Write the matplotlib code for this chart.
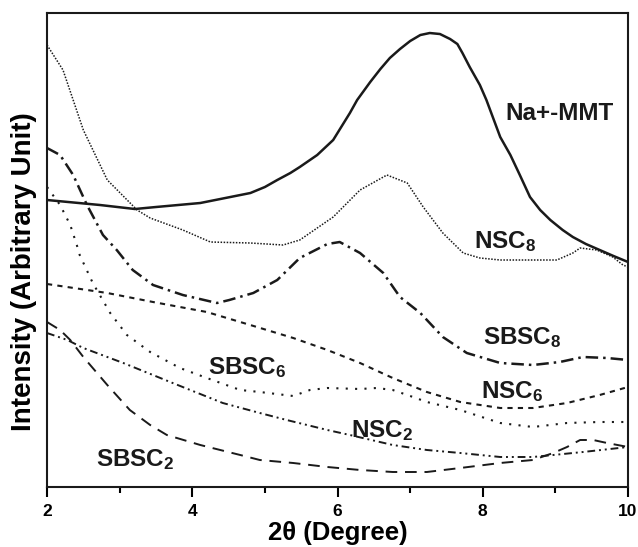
import numpy as np
import matplotlib
matplotlib.use("Agg")
import matplotlib.pyplot as plt
from matplotlib.ticker import MultipleLocator

plt.rcParams['font.family'] = ['Liberation Sans', 'DejaVu Sans']
plt.rcParams['font.weight'] = 'bold'
plt.rcParams['mathtext.fontset'] = 'custom'
plt.rcParams['mathtext.rm'] = 'Liberation Sans:bold'
plt.rcParams['mathtext.it'] = 'Liberation Sans:bold'
plt.rcParams['mathtext.bf'] = 'Liberation Sans:bold'
plt.rcParams['mathtext.default'] = 'rm'

# --- data (2theta in degree, intensity arbitrary) ---
mmt_x = [2.00, 2.73, 3.21, 3.50, 4.11, 4.80, 5.00, 5.17, 5.35, 5.48, 5.72, 5.94, 6.17, 6.27,
         6.45, 6.59, 6.72, 6.86, 7.00, 7.14, 7.27, 7.41, 7.55, 7.65, 7.72, 7.82, 7.96, 8.05,
         8.24, 8.38, 8.51, 8.65, 8.79, 8.93, 9.10, 9.24, 9.42, 9.61, 9.80, 10.0]
mmt_y = [287, 282, 278, 280, 284, 294, 300, 307, 314, 320, 332, 347, 374, 387,
         405, 418, 429, 438, 446, 452, 454, 453, 448, 443, 434, 420, 402, 387,
         350, 332, 312, 290, 277, 267, 257, 250, 243, 237, 231, 225]

nsc8_x = [2.00, 2.22, 2.50, 2.83, 3.24, 3.42, 3.87, 4.25, 4.80, 5.25, 5.48, 5.94, 6.31, 6.68,
          6.96, 7.18, 7.45, 7.73, 7.96, 8.24, 8.55, 9.02, 9.24, 9.34, 9.57, 9.79, 9.93, 10.0]
nsc8_y = [442, 417, 357, 307, 277, 269, 257, 245, 244, 242, 247, 270, 297, 312,
          304, 280, 254, 234, 229, 227, 227, 227, 234, 239, 237, 230, 222, 220]

sbsc8_x = [2.00, 2.18, 2.36, 2.55, 2.77, 2.96, 3.18, 3.46, 3.87, 4.34, 4.51, 4.84, 5.17, 5.48,
           5.86, 6.03, 6.31, 6.63, 6.86, 7.14, 7.45, 7.78, 8.24, 8.69, 9.06, 9.38, 9.71, 10.0]
sbsc8_y = [339, 332, 312, 282, 252, 237, 217, 202, 192, 184, 187, 194, 207, 229,
           243, 245, 234, 214, 190, 174, 150, 134, 124, 122, 125, 130, 129, 127]

nsc6_x = [2.00, 2.83, 3.46, 4.20, 4.89, 5.39, 5.86, 6.31, 6.76, 7.23, 7.69, 8.24, 8.69, 9.16, 9.61, 10.0]
nsc6_y = [203, 194, 185, 175, 160, 149, 137, 124, 109, 95, 85, 79, 79, 84, 92, 100]

sbsc6_x = [2.00, 2.18, 2.32, 2.41, 2.45, 2.63, 2.87, 3.10, 3.42, 3.83, 4.20, 4.66, 4.93, 5.39,
           5.62, 5.86, 6.31, 6.54, 6.76, 7.00, 7.23, 7.69, 8.24, 8.69, 9.16, 9.61, 10.0]
sbsc6_y = [300, 282, 262, 242, 232, 204, 174, 152, 135, 119, 109, 97, 95, 91,
           97, 99, 98, 99, 97, 91, 85, 77, 64, 60, 64, 65, 65]

nsc2_x = [2.00, 2.28, 2.50, 3.05, 3.73, 4.42, 4.93, 5.30, 5.86, 6.17, 6.76, 7.23, 7.69, 8.24,
          8.69, 8.97, 9.38, 10.0]
nsc2_y = [154, 147, 139, 124, 104, 84, 74, 67, 57, 52, 42, 37, 34, 30, 30, 32, 35, 40]

sbsc2_x = [2.00, 2.18, 2.32, 2.50, 2.83, 3.14, 3.42, 3.65, 4.11, 4.66, 4.93, 5.39, 5.86, 6.31,
           6.76, 7.23, 7.69, 8.24, 8.69, 8.97, 9.16, 9.34, 9.52, 9.71, 10.0]
sbsc2_y = [165, 157, 147, 130, 102, 77, 62, 52, 42, 32, 27, 24, 20, 17,
           15, 15, 19, 24, 27, 34, 40, 47, 47, 44, 40]

fig = plt.figure(figsize=(6.38, 5.47), dpi=100)
ax = fig.add_axes([0.0737, 0.1097, 0.9107, 0.8665])

ink = '#1a1a1a'
ax.plot(mmt_x, mmt_y, color=ink, lw=1.8, ls='-')
ax.plot(nsc8_x, nsc8_y, color=ink, lw=1.1, ls=(0, (1, 1)))
ax.plot(sbsc8_x, sbsc8_y, color=ink, lw=1.8, ls=(0, (5, 2, 1, 2)))
ax.plot(nsc6_x, nsc6_y, color=ink, lw=1.5, ls=(0, (2.5, 2.5)))
ax.plot(sbsc6_x, sbsc6_y, color=ink, lw=1.5, ls=(0, (1, 3.5)))
ax.plot(nsc2_x, nsc2_y, color=ink, lw=1.4, ls=(0, (4, 2, 1, 2, 1, 2)))
ax.plot(sbsc2_x, sbsc2_y, color=ink, lw=1.4, ls=(0, (6, 4)))

lab = dict(fontsize=17.5, fontweight='bold', ha='center', va='center', color=ink)
ax.text(9.06, 374, 'Na+-MMT', **lab)
ax.text(8.31, 245, 'NSC$_8$', **lab)
ax.text(8.55, 149, 'SBSC$_8$', **lab)
ax.text(4.75, 119, 'SBSC$_6$', **lab)
ax.text(8.40, 95, 'NSC$_6$', **lab)
ax.text(6.61, 56, 'NSC$_2$', **lab)
ax.text(3.21, 27, 'SBSC$_2$', **lab)

ax.set_xlim(2, 10)
ax.set_ylim(0, 474)
ax.xaxis.set_major_locator(MultipleLocator(2))
ax.xaxis.set_minor_locator(MultipleLocator(1))
ax.set_yticks([])
ax.tick_params(axis='x', which='major', direction='out', length=7, width=1.5,
               labelsize=12.5, pad=5.5)
ax.tick_params(axis='x', which='minor', direction='out', length=4, width=1.5)
for lbl in ax.get_xticklabels():
    lbl.set_fontweight('bold')
for s in ax.spines.values():
    s.set_linewidth(1.5)
    s.set_color(ink)

ax.set_xlabel('2θ (Degree)', fontsize=18.5, fontweight='bold', labelpad=1)
ax.set_ylabel('Intensity (Arbitrary Unit)', fontsize=20, fontweight='bold')
ax.yaxis.set_label_coords(-0.018, 0.454)

fig.savefig('out.png', dpi=100)
